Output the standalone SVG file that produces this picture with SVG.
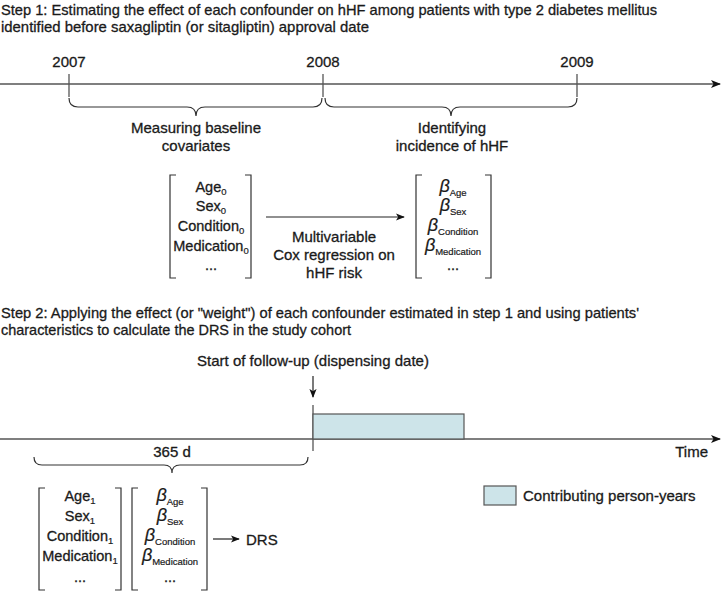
<svg xmlns="http://www.w3.org/2000/svg" width="724" height="592" viewBox="0 0 724 592">
<defs>
<style>
text{font-family:"Liberation Sans",Arial,sans-serif;fill:#1a1a1a;font-size:15px;stroke:#1a1a1a;stroke-width:0.3}
.m{text-anchor:middle}
.it{font-size:14.5px}
.sub{font-size:9.5px;stroke-width:0.2}
.b{font-style:italic;font-size:18px;stroke-width:0.2}
.ln{stroke:#555;stroke-width:1.3;fill:none}
.dk{stroke:#222;stroke-width:1.2;fill:none}
.br{stroke:#333;stroke-width:1.2;fill:none}
</style>
<marker id="ah" viewBox="0 0 10 10" refX="9" refY="5" markerWidth="9" markerHeight="9" markerUnits="userSpaceOnUse" orient="auto">
<path d="M0,1 L10,5 L0,9 L2.5,5 Z" fill="#111"/>
</marker>
<marker id="ah2" viewBox="0 0 10 10" refX="9" refY="5" markerWidth="10" markerHeight="10" markerUnits="userSpaceOnUse" orient="auto">
<path d="M0,1 L10,5 L0,9 L2.5,5 Z" fill="#111"/>
</marker>
</defs>
<rect width="724" height="592" fill="#fff"/>

<g id="titles">
<text x="1" y="15" textLength="656" lengthAdjust="spacingAndGlyphs">Step 1: Estimating the effect of each confounder on hHF among patients with type 2 diabetes mellitus</text>
<text x="1" y="32" textLength="368" lengthAdjust="spacingAndGlyphs">identified before saxagliptin (or sitagliptin) approval date</text>
<text x="1" y="318" textLength="638" lengthAdjust="spacingAndGlyphs">Step 2: Applying the effect (or "weight") of each confounder estimated in step 1 and using patients'</text>
<text x="1" y="335" textLength="350" lengthAdjust="spacingAndGlyphs">characteristics to calculate the DRS in the study cohort</text>
</g>

<g id="connectors">
<line class="ln" x1="0" y1="84" x2="720" y2="84" marker-end="url(#ah2)"/>
<line class="ln" x1="69" y1="74" x2="69" y2="97"/>
<line class="ln" x1="323" y1="74" x2="323" y2="97"/>
<line class="ln" x1="577" y1="74" x2="577" y2="97"/>
<path class="br" d="M69,98 Q69,107 78,107 L187,107 Q196,107 196,116 Q196,107 205,107 L313,107 Q322,107 322,98"/>
<path class="br" d="M325,98 Q325,107 334,107 L442,107 Q451,107 451,116 Q451,107 460,107 L568,107 Q577,107 577,98"/>
<line class="dk" x1="266" y1="217" x2="404" y2="217" marker-end="url(#ah)"/>
<line class="ln" x1="0" y1="439" x2="720" y2="439" marker-end="url(#ah2)"/>
<line class="ln" x1="313" y1="405" x2="313" y2="451"/>
<line class="dk" x1="313" y1="376" x2="313" y2="397" marker-end="url(#ah)"/>
<path class="br" d="M34,457 Q34,465 42,465 L164,465 Q172,465 172,473 Q172,465 180,465 L300,465 Q308,465 308,457"/>
<line class="dk" x1="213" y1="539" x2="239" y2="539" marker-end="url(#ah)"/>
</g>

<g id="years">
<text class="m" x="69" y="67">2007</text>
<text class="m" x="323" y="67">2008</text>
<text class="m" x="577" y="67">2009</text>
</g>

<g id="period-labels">
<text class="m" x="196" y="133">Measuring baseline</text>
<text class="m" x="196" y="151">covariates</text>
<text class="m" x="452" y="133">Identifying</text>
<text class="m" x="452" y="151">incidence of hHF</text>
</g>

<g id="baseline-matrix">
<path class="br" d="M176,175 L170,175 L170,278 L176,278"/>
<path class="br" d="M245,175 L251,175 L251,278 L245,278"/>
<text class="m it" x="211" y="192">Age<tspan class="sub" dy="3">0</tspan></text>
<text class="m it" x="211" y="211">Sex<tspan class="sub" dy="3">0</tspan></text>
<text class="m it" x="211" y="231">Condition<tspan class="sub" dy="3">0</tspan></text>
<text class="m it" x="211" y="251">Medication<tspan class="sub" dy="3">0</tspan></text>
<text class="m it" x="211" y="270">...</text>
</g>

<g id="cox-label">
<text class="m" x="334" y="242">Multivariable</text>
<text class="m" x="334" y="260">Cox regression on</text>
<text class="m" x="334" y="278">hHF risk</text>
</g>

<g id="beta-matrix">
<path class="br" d="M422,175 L416,175 L416,278 L422,278"/>
<path class="br" d="M485,175 L491,175 L491,278 L485,278"/>
<text class="m" x="453" y="192"><tspan class="b">β</tspan><tspan class="sub" dy="4">Age</tspan></text>
<text class="m" x="453" y="211"><tspan class="b">β</tspan><tspan class="sub" dy="4">Sex</tspan></text>
<text class="m" x="453" y="231"><tspan class="b">β</tspan><tspan class="sub" dy="4">Condition</tspan></text>
<text class="m" x="453" y="251"><tspan class="b">β</tspan><tspan class="sub" dy="4">Medication</tspan></text>
<text class="m it" x="453" y="270">...</text>
</g>

<g id="followup-label">
<text class="m" x="313" y="366">Start of follow-up (dispensing date)</text>
</g>

<g id="person-years-bar">
<rect x="313" y="414" width="151" height="25" fill="#cde4e9" stroke="#555" stroke-width="1.2"/>
</g>

<g id="time-label">
<text x="708" y="457" text-anchor="end">Time</text>
</g>

<g id="lookback-label">
<text class="m" x="172" y="457">365 d</text>
</g>

<g id="cohort-matrix">
<path class="br" d="M45,488 L39,488 L39,590 L45,590"/>
<path class="br" d="M115,488 L121,488 L121,590 L115,590"/>
<text class="m it" x="80" y="501">Age<tspan class="sub" dy="3">1</tspan></text>
<text class="m it" x="80" y="521">Sex<tspan class="sub" dy="3">1</tspan></text>
<text class="m it" x="80" y="541">Condition<tspan class="sub" dy="3">1</tspan></text>
<text class="m it" x="80" y="561">Medication<tspan class="sub" dy="3">1</tspan></text>
<text class="m it" x="80" y="582">...</text>
</g>

<g id="cohort-beta-matrix">
<path class="br" d="M138,488 L132,488 L132,590 L138,590"/>
<path class="br" d="M201,488 L207,488 L207,590 L201,590"/>
<text class="m" x="170" y="501"><tspan class="b">β</tspan><tspan class="sub" dy="4">Age</tspan></text>
<text class="m" x="170" y="521"><tspan class="b">β</tspan><tspan class="sub" dy="4">Sex</tspan></text>
<text class="m" x="170" y="541"><tspan class="b">β</tspan><tspan class="sub" dy="4">Condition</tspan></text>
<text class="m" x="170" y="561"><tspan class="b">β</tspan><tspan class="sub" dy="4">Medication</tspan></text>
<text class="m it" x="170" y="582">...</text>
</g>

<g id="drs">
<text x="246" y="545">DRS</text>
</g>

<g id="legend">
<rect x="484" y="486" width="32" height="19" fill="#cde4e9" stroke="#555" stroke-width="1.2"/>
<text x="523" y="501">Contributing person-years</text>
</g>
</svg>
